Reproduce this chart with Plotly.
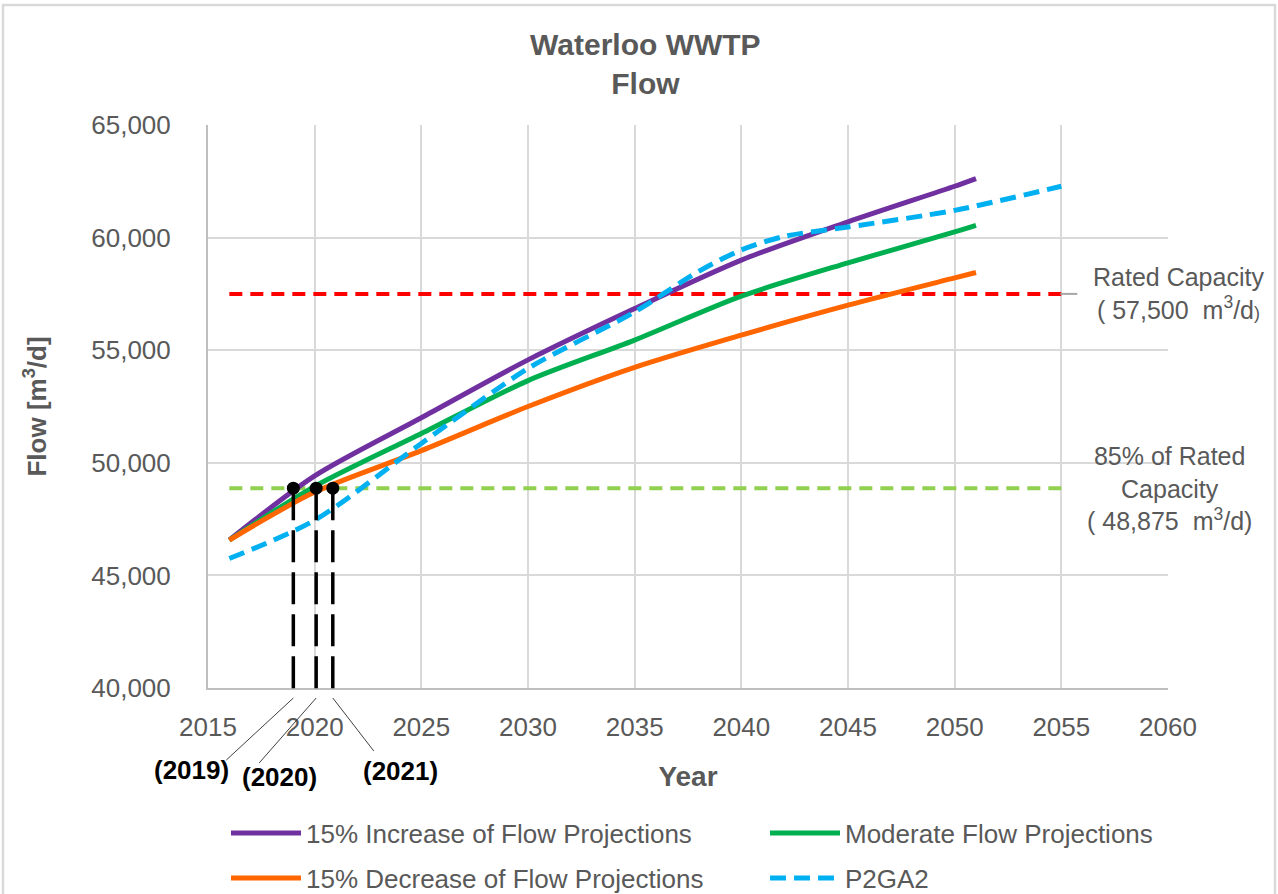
import plotly.graph_objects as go

# ---------------- data ----------------
years_proj = [2016, 2020, 2025, 2030, 2035, 2040, 2045, 2050, 2051]
flow_increase = [46570, 49420, 52000, 54570, 56850, 59000, 60700, 62280, 62620]
flow_moderate = [46570, 48950, 51300, 53650, 55450, 57400, 58880, 60250, 60540]
flow_decrease = [46570, 48700, 50540, 52500, 54240, 55670, 57000, 58210, 58450]

years_p2ga2 = [2016, 2020, 2025, 2030, 2035, 2038, 2040, 2042, 2045, 2050, 2055]
flow_p2ga2 = [45750, 47450, 50860, 54190, 56700, 58500, 59450, 60050, 60470, 61210, 62280]

capacity_years = [2016, 2055]
rated_capacity = 57500
capacity_85 = 48875

crossing_years = [2019.0, 2020.07, 2020.85]
crossing_labels = ["(2019)", "(2020)", "(2021)"]

x_range = [2015, 2060]
y_range = [40000, 65000]
x_ticks = [2015, 2020, 2025, 2030, 2035, 2040, 2045, 2050, 2055, 2060]
y_ticks = [40000, 45000, 50000, 55000, 60000, 65000]

series_names = ["15% Increase of Flow Projections", "Moderate Flow Projections",
                "15% Decrease of Flow Projections", "P2GA2"]

# ---------------- layout constants ----------------
W, H = 1278, 894
ML, MR, MT, MB = 208, 110, 125, 206
PW, PH = W - ML - MR, H - MT - MB
GRAY = "#595959"
FONT = "Liberation Sans, Arial, sans-serif"


def xp(year):
    return (year - x_range[0]) / (x_range[1] - x_range[0])


def yp(val):
    return (val - y_range[0]) / (y_range[1] - y_range[0])


def pxx(dx):  # pixel offset -> paper x
    return dx / PW


def pxy(dy):  # pixel offset (downwards) -> paper y
    return -dy / PH


fig = go.Figure()

# capacity reference lines
fig.add_trace(go.Scatter(x=capacity_years, y=[rated_capacity] * 2, mode="lines",
                         line=dict(color="#FF0000", width=4, dash="13px,8px"),
                         showlegend=False, hoverinfo="skip"))
fig.add_trace(go.Scatter(x=capacity_years, y=[capacity_85] * 2, mode="lines",
                         line=dict(color="#92D050", width=4, dash="13px,8px"),
                         showlegend=False, hoverinfo="skip"))

styles = [
    dict(color="#7030A0", width=5, shape="spline", smoothing=0.8),
    dict(color="#00B050", width=5, shape="spline", smoothing=0.8),
    dict(color="#FF6600", width=5, shape="spline", smoothing=0.8),
    dict(color="#00B0F0", width=5, dash="16px,8px", shape="spline", smoothing=0.8),
]
series_x = [years_proj, years_proj, years_proj, years_p2ga2]
series_y = [flow_increase, flow_moderate, flow_decrease, flow_p2ga2]
legend_ids = ["legend", "legend2", "legend3", "legend4"]
for name, xs, ys, st, lg in zip(series_names, series_x, series_y, styles, legend_ids):
    fig.add_trace(go.Scatter(x=xs, y=ys, mode="lines", name=name, line=st, legend=lg))

# crossing dots
fig.add_trace(go.Scatter(x=crossing_years, y=[capacity_85] * len(crossing_years), mode="markers",
                         marker=dict(color="black", size=13), cliponaxis=False,
                         showlegend=False, hoverinfo="skip"))

shapes = []
annotations = []
bottom = pxy(10)
label_offsets = [(-102, 82), (-37, 89), (68, 83)]
leader_ends = [(-67, 72), (-57, 75), (41, 63)]
for yr, lab, (lx, ly), (ex, ey) in zip(crossing_years, crossing_labels, label_offsets, leader_ends):
    x0 = xp(yr)
    shapes.append(dict(type="line", xref="paper", yref="paper", x0=x0, x1=x0,
                       y0=yp(capacity_85), y1=bottom,
                       line=dict(color="black", width=3.5, dash="32px,10px")))
    shapes.append(dict(type="line", xref="paper", yref="paper", x0=x0, x1=x0 + pxx(ex),
                       y0=bottom, y1=pxy(ey), line=dict(color="#404040", width=1)))
    annotations.append(dict(xref="paper", yref="paper", x=x0 + pxx(lx), y=pxy(ly),
                            text=f"<b>{lab}</b>", showarrow=False, xanchor="center",
                            yanchor="middle", font=dict(size=26, color="black", family=FONT)))

# rated capacity leader
shapes.append(dict(type="line", xref="paper", yref="paper", x0=xp(capacity_years[1]) - pxx(1),
                   x1=xp(capacity_years[1]) + pxx(16), y0=yp(rated_capacity), y1=yp(rated_capacity),
                   line=dict(color="#A6A6A6", width=2)))

rated_txt = f"{rated_capacity:,}"
c85_txt = f"{capacity_85:,}"
annotations.append(dict(xref="paper", yref="paper", x=1 + pxx(10), y=yp(rated_capacity),
                        text=f"Rated Capacity<br>( {rated_txt}  m<sup>3</sup>/d<span style='font-size:18px'>)</span>",
                        showarrow=False, xanchor="center", yanchor="middle",
                        font=dict(size=25, color=GRAY, family=FONT)))
annotations.append(dict(xref="paper", yref="paper", x=1 + pxx(1), y=yp(capacity_85),
                        text=f"85% of Rated<br>Capacity<br>( {c85_txt}  m<sup>3</sup>/d)",
                        showarrow=False, xanchor="center", yanchor="middle",
                        font=dict(size=25, color=GRAY, family=FONT)))

# outer chart border
shapes.append(dict(type="rect", xref="paper", yref="paper",
                   x0=pxx(3 - ML), x1=pxx(W - 3 - ML), y0=pxy(H + 20 - MT - PH), y1=1 + (MT - 5) / PH,
                   line=dict(color="#D9D9D9", width=2.5), fillcolor="rgba(0,0,0,0)", layer="below"))


def legend_at(px, py):
    return dict(orientation="h", xref="container", yref="container",
                x=px / W, y=1 - py / H, xanchor="left", yanchor="middle",
                font=dict(size=26, color=GRAY, family=FONT), bgcolor="rgba(0,0,0,0)",
                itemwidth=70)


fig.update_layout(
    width=W, height=H,
    margin=dict(l=ML, r=MR, t=MT, b=MB, autoexpand=False),
    paper_bgcolor="white", plot_bgcolor="white",
    font=dict(family=FONT, color=GRAY),
    title=dict(text="<b>Waterloo WWTP<br>Flow</b>", x=0.505, xref="container", xanchor="center",
               y=1 - 55 / H, yref="container", yanchor="top",
               font=dict(size=30, color=GRAY, family=FONT)),
    xaxis=dict(range=x_range, tickvals=x_ticks, showgrid=True, gridcolor="#D9D9D9", gridwidth=2,
               showline=True, linecolor="#BFBFBF", linewidth=2, zeroline=False,
               ticks="", ticklabelstandoff=15,
               tickfont=dict(size=26, color=GRAY, family=FONT),
               title=dict(text="<b>Year</b>", font=dict(size=28, color=GRAY, family=FONT), standoff=25)),
    yaxis=dict(range=y_range, tickvals=y_ticks, tickformat=",", showgrid=True, gridcolor="#D9D9D9",
               gridwidth=2, showline=True, linecolor="#BFBFBF", linewidth=2, zeroline=False,
               ticks="", ticklabelstandoff=30,
               tickfont=dict(size=26, color=GRAY, family=FONT),
               title=dict(text="<b>Flow [m<sup>3</sup>/d]</b>", font=dict(size=26, color=GRAY, family=FONT),
                          standoff=37)),
    legend=legend_at(226, 833),
    legend2=legend_at(765, 833),
    legend3=legend_at(226, 878),
    legend4=legend_at(765, 878),
    shapes=shapes,
    annotations=annotations,
)

fig.write_html("out.html", config=dict(displayModeBar=False),
               post_script="document.body.style.margin='0';document.body.style.overflow='hidden';")
